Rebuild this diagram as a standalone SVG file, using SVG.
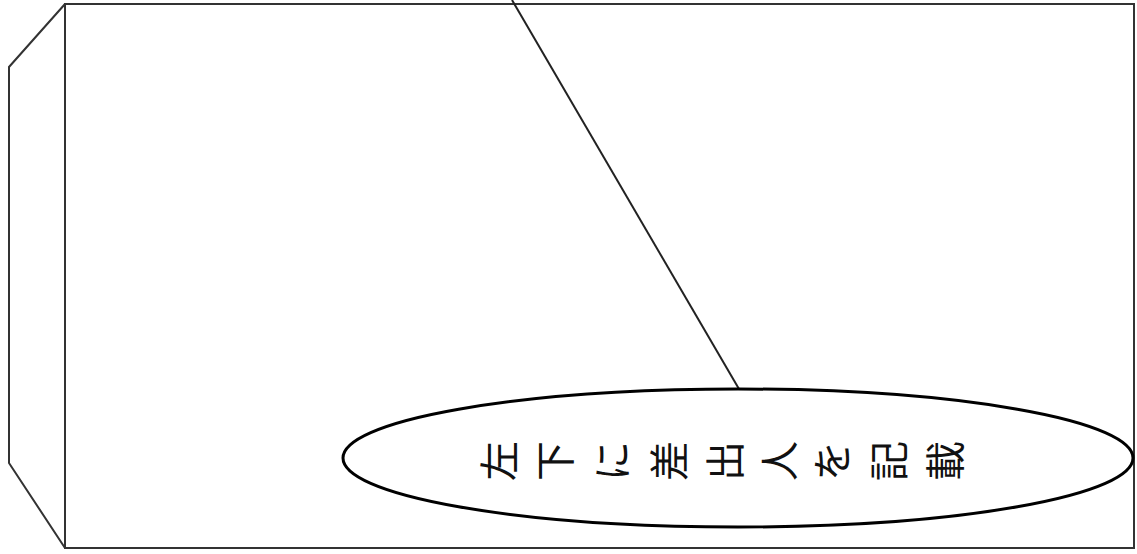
<svg xmlns="http://www.w3.org/2000/svg" width="1137" height="554" viewBox="0 0 1137 554">
<style>
.edge{fill:none;stroke:#333;stroke-width:2}
.lbl{font-family:"Noto Sans CJK JP","Noto Sans CJK SC",sans-serif;font-size:40px;font-weight:400;fill:#111;text-anchor:middle;dominant-baseline:central}
</style>
<rect width="1137" height="554" fill="#fff"/>
<g id="flap"><polyline class="edge" points="65,4 9,67 9,463 65,548"/></g>
<g id="envelope"><rect class="edge" x="65" y="4" width="1069" height="544"/></g>
<g id="connectors"><line x1="512" y1="0" x2="739" y2="389" stroke="#222" stroke-width="2"/></g>
<g id="note">
<ellipse cx="738" cy="458" rx="395" ry="69" fill="#fff" stroke="#000" stroke-width="3"/>
<text class="lbl" transform="translate(497,461) rotate(-90)">左</text>
<text class="lbl" transform="translate(553,461) rotate(-90)">下</text>
<text class="lbl" transform="translate(610,461) rotate(-90)">に</text>
<text class="lbl" transform="translate(667,461) rotate(-90)">差</text>
<text class="lbl" transform="translate(723,461) rotate(-90)">出</text>
<text class="lbl" transform="translate(777,461) rotate(-90)">人</text>
<text class="lbl" transform="translate(830,461) rotate(-90)">を</text>
<text class="lbl" transform="translate(887,461) rotate(-90)">記</text>
<text class="lbl" transform="translate(943,461) rotate(-90)">載</text>
</g>
</svg>
